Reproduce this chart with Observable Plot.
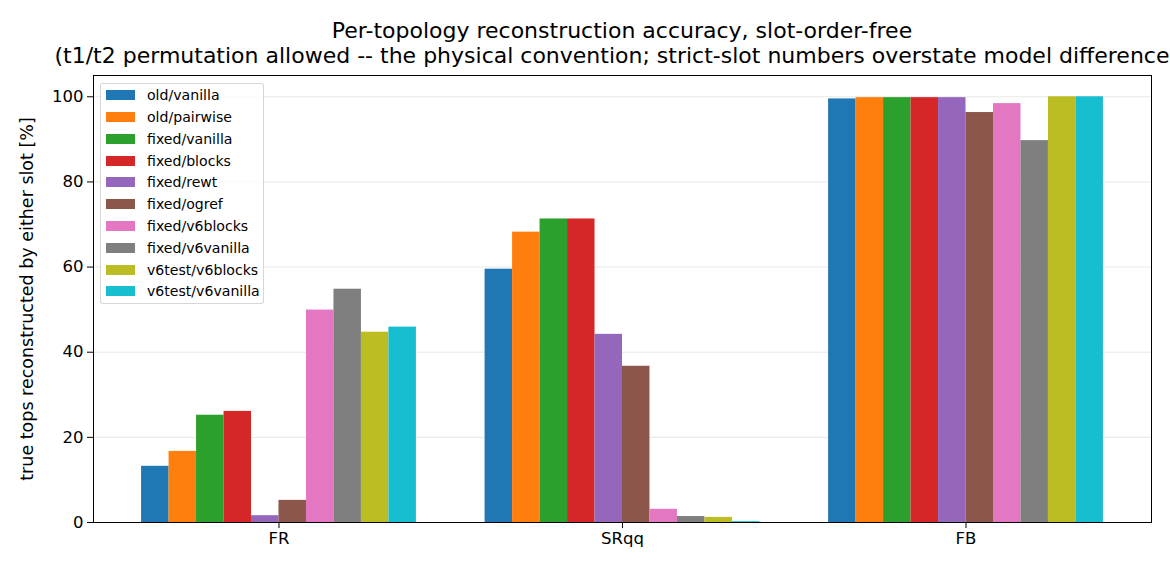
<!DOCTYPE html>
<html>
<head>
<meta charset="utf-8">
<script src="https://cdn.jsdelivr.net/npm/d3@7"></script>
<script src="https://cdn.jsdelivr.net/npm/@observablehq/plot@0.6"></script>
<style>
  html, body { margin: 0; padding: 0; background: #fff; overflow: hidden; }
  body { font-family: "DejaVu Sans", sans-serif; width: 1170px; height: 572px; position: relative; }
  #title { position: relative; width: 1170px; height: 70px; overflow: hidden; }
  #title .inner { position: absolute; left: -78px; width: 1400px; top: 18px; text-align: center;
    font-size: 22px; line-height: 25px; color: #000; white-space: nowrap; }
  #legend { position: absolute; left: 100px; top: 83px; width: 164px; height: 221px; box-sizing: border-box;
    border: 1px solid rgba(204,204,204,0.8); border-radius: 3px; background: rgba(255,255,255,0.8);
    padding-top: 0.4px; font-size: 14.1px; color: #000; }
  #legend .row { height: 21.8px; display: flex; align-items: center; }
  #legend .sw { width: 29px; height: 10px; margin-left: 5px; }
  #legend .lb { margin-left: 12px; white-space: nowrap; }
  #chart svg text { font-family: "DejaVu Sans", sans-serif; }
  #chart svg g[aria-label="y-axis label"] text { font-size: 17.5px; }
</style>
</head>
<body>
<div id="title"><div class="inner">Per-topology reconstruction accuracy, slot-order-free<br>(t1/t2 permutation allowed -- the physical convention; strict-slot numbers overstate model differences)</div></div>
<div id="chart"></div>
<div id="legend"></div>
<script>
const groups = ["FR", "SRqq", "FB"];
const series = ["old/vanilla", "old/pairwise", "fixed/vanilla", "fixed/blocks", "fixed/rewt",
  "fixed/ogref", "fixed/v6blocks", "fixed/v6vanilla", "v6test/v6blocks", "v6test/v6vanilla"];
const oldVanilla     = [13.2, 59.5, 99.5];
const oldPairwise    = [16.7, 68.2, 99.8];
const fixedVanilla   = [25.2, 71.3, 99.8];
const fixedBlocks    = [26.1, 71.3, 99.8];
const fixedRewt      = [1.6, 44.2, 99.8];
const fixedOgref     = [5.2, 36.7, 96.3];
const fixedV6blocks  = [49.9, 3.1, 98.4];
const fixedV6vanilla = [54.8, 1.4, 89.7];
const v6testV6blocks = [44.7, 1.2, 100.0];
const v6testV6vanilla= [45.9, 0.2, 100.0];
const yTicks = [0, 20, 40, 60, 80, 100];
const colors = ["#1f77b4", "#ff7f0e", "#2ca02c", "#d62728", "#9467bd",
  "#8c564b", "#e377c2", "#7f7f7f", "#bcbd22", "#17becf"];

const valuesBySeries = [oldVanilla, oldPairwise, fixedVanilla, fixedBlocks, fixedRewt,
  fixedOgref, fixedV6blocks, fixedV6vanilla, v6testV6blocks, v6testV6vanilla];
const barWidth = 0.08;
const data = [];
series.forEach((s, si) => {
  groups.forEach((g, gi) => {
    data.push({series: s, si, group: g, gi, value: valuesBySeries[si][gi]});
  });
});

const chart = Plot.plot({
  width: 1170,
  height: 502,
  marginLeft: 93,
  marginRight: 19,
  marginTop: 5,
  marginBottom: 50,
  style: {fontFamily: "DejaVu Sans, sans-serif", fontSize: "16.5px", color: "#000", background: "#fff"},
  x: {domain: [-0.54, 2.54]},
  y: {domain: [0, 105]},
  color: {domain: series, range: colors},
  marks: [
    Plot.gridY(yTicks, {stroke: "#b0b0b0", strokeOpacity: 0.3, strokeWidth: 1}),
    Plot.rectY(data, {
      x1: d => d.gi + (d.si - 5) * barWidth,
      x2: d => d.gi + (d.si - 4) * barWidth,
      y1: 0,
      y2: "value",
      fill: "series",
      inset: 0
    }),
    Plot.axisY({ticks: yTicks, tickSize: 6, tickPadding: 4, fontSize: 16.5,
      label: "true tops reconstructed by either slot [%]", labelAnchor: "center", labelArrow: "none", labelOffset: 73}),
    Plot.axisX({ticks: [0, 1, 2], tickSize: 6, tickPadding: 4, fontSize: 16.5,
      tickFormat: i => groups[i], label: null}),
    Plot.frame({stroke: "#000", strokeWidth: 1})
  ]
});
document.getElementById("chart").appendChild(chart);

const legend = d3.select("#legend");
series.forEach((s, i) => {
  const row = legend.append("div").attr("class", "row");
  row.append("div").attr("class", "sw").style("background", colors[i]);
  row.append("div").attr("class", "lb").text(s);
});
</script>
</body>
</html>
